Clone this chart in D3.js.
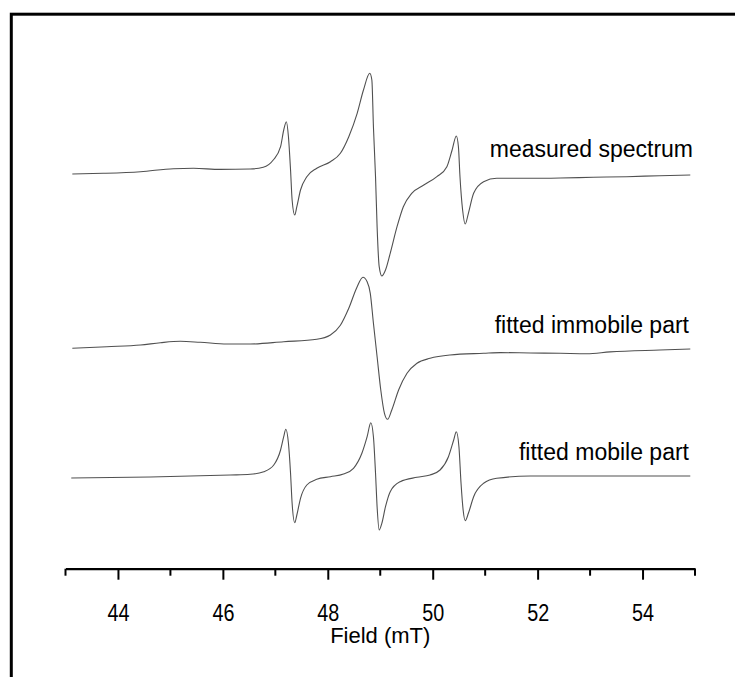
<!DOCTYPE html>
<html>
<head>
<meta charset="utf-8">
<script src="https://cdn.jsdelivr.net/npm/d3@7"></script>
<style>
  html, body { margin: 0; padding: 0; background: #fff; }
  svg { display: block; }
  text { font-family: "Liberation Sans", Arial, Helvetica, sans-serif; fill: #000; }
</style>
</head>
<body>
<svg id="chart" width="735" height="677"></svg>
<script>
// ---- Data (field in mT, intensity in arbitrary units relative to each trace's baseline) ----
const seriesNames = ["measured spectrum", "fitted immobile part", "fitted mobile part"];
const seriesOffsets = [395, 220.7, 91];

const measuredField = [43.13,43.72,44.43,45.06,45.44,45.95,46.52,46.77,46.96,47.10,47.16,47.21,47.25,47.29,47.32,47.37,47.41,47.48,47.60,47.79,48.05,48.24,48.40,48.56,48.68,48.80,48.84,48.87,48.91,48.94,48.98,49.03,49.10,49.19,49.32,49.44,49.60,49.83,50.08,50.27,50.37,50.45,50.49,50.52,50.57,50.62,50.68,50.78,50.97,51.22,51.86,52.43,53.06,53.70,54.33,54.91];
const measuredValue = [0,0.7,2.3,5.3,5.7,4.6,5,6.7,14,27.3,44,52.3,37.3,4,-26,-41,-32.7,-16,-2.7,5.7,12.3,20.7,37.3,60.7,84,100.7,94,47.3,-2.7,-52.7,-92.7,-102,-96,-79.3,-52.7,-32.7,-19.3,-11,-2.7,7.3,24,38,27.3,-2.7,-36,-50,-39.3,-19.3,-7.7,-4.3,-4.3,-4,-3.3,-2.7,-1.7,-1];

const immobileField = [43.13,43.79,44.43,44.81,45.19,45.57,46.08,46.52,47.16,47.79,48.05,48.24,48.40,48.56,48.67,48.75,48.81,48.87,48.94,49.01,49.08,49.14,49.22,49.35,49.51,49.70,49.95,50.33,50.97,51.29,51.86,52.43,52.94,53.38,54.33,54.91];
const immobileValue = [0,1.6,3.3,5.6,7,6,4.3,4.3,6.6,9,13.3,23,40,61.6,71,66.6,55,25,-8.4,-41.7,-65,-71,-61.7,-41.7,-25,-15,-10,-6.7,-5,-4.3,-4.7,-5,-5.4,-3.6,-1.7,-0.7];

const mobileField = [43.11,44.62,46.14,46.52,46.78,46.97,47.10,47.16,47.20,47.25,47.29,47.32,47.37,47.41,47.48,47.60,47.79,48.05,48.30,48.49,48.65,48.75,48.82,48.87,48.91,48.94,48.98,49.03,49.10,49.19,49.38,49.70,49.95,50.14,50.30,50.40,50.45,50.50,50.54,50.58,50.62,50.68,50.78,50.97,51.22,51.86,53.19,54.91];
const mobileValue = [0,1,3,3.7,6.3,13,28,41.3,48.7,34.7,4.7,-25.3,-44.7,-37,-20.3,-7,-1.3,1.3,4,9.7,24.7,41.3,55.3,41.3,4.7,-28.7,-52,-45.3,-28.7,-13.7,-3.7,0.7,3,8,21.3,38,46.3,31.3,-5.3,-32,-42.7,-35.3,-18.7,-5.3,-0.3,2,2,2];

const xTickValues = [44, 46, 48, 50, 52, 54];
const xMinorTickValues = [43, 45, 47, 49, 51, 53, 55];
const xDomain = [43, 55];
const xLabel = "Field (mT)";

// ---- Chart ----
const svg = d3.select("#chart");

// outer frame (only top and left edges are inside the picture)
svg.append("rect")
  .attr("x", 11.3).attr("y", 14.2)
  .attr("width", 900).attr("height", 900)
  .attr("fill", "none").attr("stroke", "#000").attr("stroke-width", 3);

const x = d3.scaleLinear().domain(xDomain).range([65.5, 695]);
const y = d3.scaleLinear().domain([0, 560]).range([569, 9]);

const series = [
  { field: measuredField, value: measuredValue },
  { field: immobileField, value: immobileValue },
  { field: mobileField, value: mobileValue }
];

const line = d3.line()
  .x(d => x(d[0]))
  .y(d => y(d[1]))
  .curve(d3.curveMonotoneX);

series.forEach((s, i) => {
  const pts = s.field.map((f, j) => [f, seriesOffsets[i] + s.value[j]]);
  svg.append("path")
    .attr("d", line(pts))
    .attr("fill", "none")
    .attr("stroke", "#505050")
    .attr("stroke-width", 1.1)
    .attr("stroke-linejoin", "round");
});

// series labels
const labelPos = [
  { x: 693, y: 157 },
  { x: 689, y: 333 },
  { x: 689, y: 460 }
];
seriesNames.forEach((n, i) => {
  svg.append("text")
    .attr("x", labelPos[i].x).attr("y", labelPos[i].y)
    .attr("text-anchor", "end")
    .attr("font-size", 23)
    .text(n);
});

// x axis
const axisY = 568.7;
const gAxis = svg.append("g").attr("transform", `translate(0,${axisY})`);
const axis = d3.axisBottom(x)
  .tickValues(xTickValues)
  .tickSize(11)
  .tickSizeOuter(0)
  .tickPadding(0)
  .tickFormat(d3.format("d"));
gAxis.call(axis);
gAxis.select(".domain").attr("stroke", "#000").attr("stroke-width", 2.2);
gAxis.selectAll(".tick line").attr("stroke", "#000").attr("stroke-width", 2);
gAxis.selectAll(".tick text")
  .attr("y", 0)
  .attr("dy", 0)
  .attr("font-size", 23)
  .attr("font-family", "Liberation Sans, Arial, sans-serif")
  .attr("transform", "translate(0,52.5) scale(0.86,1)")
  .style("fill", "#000");

// minor ticks
gAxis.selectAll(".minor")
  .data(xMinorTickValues)
  .enter().append("line")
  .attr("class", "minor")
  .attr("x1", d => x(d)).attr("x2", d => x(d))
  .attr("y1", 0).attr("y2", 7)
  .attr("stroke", "#000").attr("stroke-width", 2);

// axis title
svg.append("text")
  .attr("x", (x.range()[0] + x.range()[1]) / 2)
  .attr("y", 642.7)
  .attr("text-anchor", "middle")
  .attr("font-size", 22)
  .text(xLabel);
</script>
</body>
</html>
